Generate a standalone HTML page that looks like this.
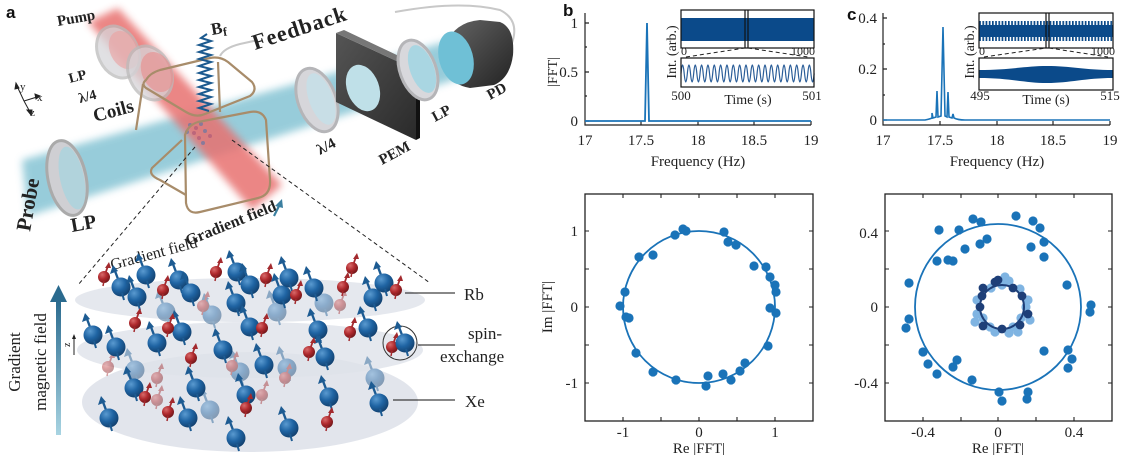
<!DOCTYPE html>
<html><head><meta charset="utf-8">
<style>
html,body{margin:0;padding:0;background:#fff;overflow:hidden;}
svg{display:block;}
.s{font-family:"Liberation Serif",serif;fill:#222;}
.b{font-family:"Liberation Sans",sans-serif;font-weight:bold;fill:#111;}
</style></head>
<body>
<svg width="1126" height="455" viewBox="0 0 1126 455" xmlns="http://www.w3.org/2000/svg">
<defs>
<filter id="bl4" x="-30%" y="-30%" width="160%" height="160%"><feGaussianBlur stdDeviation="4"/></filter>
<radialGradient id="gb" cx="0.35" cy="0.3" r="0.75"><stop offset="0" stop-color="#5a9ad0"/><stop offset="0.5" stop-color="#1f64a3"/><stop offset="1" stop-color="#123f6c"/></radialGradient>
<radialGradient id="gr" cx="0.35" cy="0.3" r="0.75"><stop offset="0" stop-color="#d86a6a"/><stop offset="0.5" stop-color="#b02a2e"/><stop offset="1" stop-color="#6e1518"/></radialGradient>
<linearGradient id="garr" x1="0" y1="1" x2="0" y2="0"><stop offset="0" stop-color="#a8d4e2"/><stop offset="1" stop-color="#2a6a8e"/></linearGradient>
<linearGradient id="gpd" x1="0" y1="0" x2="1" y2="1"><stop offset="0" stop-color="#666"/><stop offset="1" stop-color="#222"/></linearGradient>
<linearGradient id="gpem" x1="0" y1="0" x2="1" y2="1"><stop offset="0" stop-color="#555"/><stop offset="1" stop-color="#2a2a2a"/></linearGradient>
<pattern id="stripe" width="3.2" height="10" patternUnits="userSpaceOnUse"><rect width="1.7" height="10" fill="#0b4a8a"/></pattern>
<g id="xe">
<line x1="0" y1="0" x2="-6" y2="-16" stroke="#1d5b92" stroke-width="2.4"/>
<polygon points="-8,-22 -11,-13 -3,-16" fill="#1d5b92"/>
<circle cx="0" cy="0" r="9.5" fill="url(#gb)"/>
<line x1="1" y1="6" x2="3" y2="13" stroke="#1d5b92" stroke-width="2"/>
</g>
<g id="rb">
<line x1="0" y1="0" x2="4" y2="-11" stroke="#a32a2e" stroke-width="1.8"/>
<polygon points="5,-15 1,-9 7,-9" fill="#a32a2e"/>
<circle cx="0" cy="0" r="6" fill="url(#gr)"/>
<line x1="0" y1="4" x2="-1" y2="9" stroke="#a32a2e" stroke-width="1.5"/>
</g>
</defs>

<!-- ================= PANEL A TOP ================= -->
<text class="b" x="6" y="18" font-size="17">a</text>

<polygon points="22,160 452,40 460,78 28,216" fill="#86c4d4" opacity="0.85" filter="url(#bl4)"/>
<polygon points="88,22 118,8 282,185 252,210" fill="#e8716f" opacity="0.85" filter="url(#bl4)"/>

<ellipse cx="118" cy="52" rx="20" ry="27" transform="rotate(-25 118 52)" fill="#d6d6da" opacity="0.75" stroke="#bbb" stroke-width="3"/>
<ellipse cx="124" cy="50" rx="14" ry="20" transform="rotate(-25 124 50)" fill="#eba0a0" opacity="0.6"/>
<ellipse cx="150" cy="73" rx="21" ry="28" transform="rotate(-25 150 73)" fill="#d6d6da" opacity="0.75" stroke="#bbb" stroke-width="3"/>
<ellipse cx="157" cy="72" rx="15" ry="21" transform="rotate(-25 157 72)" fill="#e88c8c" opacity="0.6"/>

<ellipse cx="67" cy="178" rx="19" ry="38" transform="rotate(-12 67 178)" fill="#cfcfd3" stroke="#aaa" stroke-width="3"/>
<ellipse cx="72" cy="178" rx="12" ry="32" transform="rotate(-12 72 178)" fill="#a9d3de" opacity="0.8"/>

<g opacity="0.6">
<circle cx="190" cy="125" r="2" fill="#5577aa"/><circle cx="196" cy="128" r="2" fill="#aa5577"/><circle cx="201" cy="124" r="2" fill="#5577aa"/><circle cx="194" cy="133" r="2" fill="#aa5577"/><circle cx="205" cy="131" r="2" fill="#5577aa"/><circle cx="199" cy="138" r="2" fill="#aa5577"/><circle cx="210" cy="136" r="2" fill="#aa5577"/><circle cx="187" cy="132" r="2" fill="#5577aa"/><circle cx="203" cy="143" r="2" fill="#5577aa"/>
</g>

<g fill="none" stroke="#a88c6a" stroke-width="2.2" stroke-linejoin="round">
<path d="M146,80 Q150,73 160,70 L210,58 Q220,56 228,62 L252,82 Q258,90 250,96 L205,114 Q196,118 186,112 L146,88 Q141,84 146,80 Z"/>
<path d="M143,84 L136,130"/>
<path d="M218,62 L220,112"/>
<path d="M185,135 Q188,125 198,122 L250,112 Q262,110 266,120 L270,180 Q271,195 258,198 L200,212 Q188,215 186,203 Z"/>
<path d="M182,140 L152,168 Q148,175 160,180 L186,195"/>
</g>
<path d="M220,56 Q224,48 240,44 L258,40" fill="none" stroke="#c8c8c8" stroke-width="2"/>
<path d="M395,12 Q460,0 500,10 Q520,20 512,43" fill="none" stroke="#c8c8c8" stroke-width="2"/>

<path d="M207,34 l-6,4 l10,3 l-12,4 l12,3 l-12,4 l12,3 l-12,4 l12,3 l-12,4 l12,3 l-12,4 l12,3 l-12,4 l12,3 l-12,4 l12,3 l-12,4 l12,3 l-12,4 l12,3 l-12,4 l10,3" fill="none" stroke="#1c5a8f" stroke-width="2"/>
<text class="s" x="212" y="35" font-size="17" font-weight="bold" transform="rotate(-10 212 35)">B<tspan font-size="12" dy="3">f</tspan></text>

<ellipse cx="317" cy="100" rx="19" ry="33" transform="rotate(-20 317 100)" fill="#d6d6da" stroke="#b5b5b8" stroke-width="3"/>
<ellipse cx="321" cy="99" rx="12" ry="27" transform="rotate(-20 321 99)" fill="#c4e0e8" opacity="0.8"/>
<polygon points="336,33 416,70 416,140 336,102" fill="url(#gpem)"/>
<polygon points="336,33 344,30 420,66 416,70" fill="#777"/>
<polygon points="416,70 420,66 420,138 416,140" fill="#111"/>
<ellipse cx="363" cy="88" rx="16" ry="24" transform="rotate(-20 363 88)" fill="#bfe0e8"/>
<ellipse cx="418" cy="70" rx="18" ry="31" transform="rotate(-20 418 70)" fill="#d8d8dc" stroke="#b5b5b8" stroke-width="3"/>
<ellipse cx="422" cy="69" rx="12" ry="25" transform="rotate(-20 422 69)" fill="#a9d6e2"/>
<path d="M445,45 Q455,22 480,20 L500,22 Q515,28 513,55 Q510,78 494,85 L470,88 Q452,85 445,70 Z" fill="url(#gpd)"/>
<ellipse cx="456" cy="58" rx="17" ry="27" transform="rotate(-15 456 58)" fill="#6fc0d6"/>

<text class="s" x="58" y="26" font-size="15" font-weight="bold" transform="rotate(-10 58 26)">Pump</text>
<text class="s" x="70" y="83" font-size="14" font-weight="bold" transform="rotate(-15 70 83)">LP</text>
<text class="s" x="80" y="103" font-size="14" font-weight="bold" transform="rotate(-15 80 103)">λ/4</text>
<text class="s" x="95" y="122" font-size="19" font-weight="bold" transform="rotate(-15 95 122)">Coils</text>
<text class="s" x="255" y="50" font-size="22" font-weight="bold" letter-spacing="1" transform="rotate(-18 255 50)">Feedback</text>
<text class="s" x="320" y="155" font-size="15" font-weight="bold" transform="rotate(-28 320 155)">λ/4</text>
<text class="s" x="382" y="165" font-size="15" font-weight="bold" transform="rotate(-28 382 165)">PEM</text>
<text class="s" x="435" y="122" font-size="15" font-weight="bold" transform="rotate(-28 435 122)">LP</text>
<text class="s" x="490" y="100" font-size="15" font-weight="bold" transform="rotate(-28 490 100)">PD</text>
<text class="s" x="30" y="232" font-size="21" font-weight="bold" transform="rotate(-80 30 232)">Probe</text>
<text class="s" x="72" y="232" font-size="20" font-weight="bold" transform="rotate(-10 72 232)">LP</text>
<text class="s" x="188" y="246" font-size="16" font-weight="bold" transform="rotate(-22 188 246)">Gradient field</text>
<text class="s" x="112" y="270" font-size="16" transform="rotate(-15 112 270)">Gradient field</text>
<line x1="274" y1="216" x2="280" y2="204" stroke="#3b7fa0" stroke-width="2.2"/>
<polygon points="282,199 275,206 283,208" fill="#3b7fa0"/>

<g stroke="#222" stroke-width="1" fill="#222">
<line x1="24" y1="101" x2="17" y2="86"/><polygon points="16,83 15,89 19,88"/>
<line x1="24" y1="101" x2="37" y2="97"/><polygon points="40,96 35,94 36,99"/>
<line x1="24" y1="101" x2="30" y2="112"/><polygon points="31,115 27,110 32,110"/>
</g>
<text class="s" x="20" y="90" font-size="11">y</text>
<text class="s" x="37" y="101" font-size="11">x</text>
<text class="s" x="30" y="116" font-size="11">z</text>

<line x1="195" y1="147" x2="78" y2="285" stroke="#222" stroke-width="1" stroke-dasharray="4,3"/>
<line x1="232" y1="140" x2="430" y2="283" stroke="#222" stroke-width="1" stroke-dasharray="4,3"/>

<!-- ================= PANEL A BOTTOM ================= -->
<ellipse cx="250" cy="402" rx="168" ry="50" fill="#dfe2ea" opacity="0.9"/>
<ellipse cx="250" cy="350" rx="173" ry="28" fill="#dfe2ea" opacity="0.8"/>
<ellipse cx="250" cy="300" rx="175" ry="22" fill="#dfe2ea" opacity="0.8"/>

<g opacity="0.45">
<use href="#xe" x="166" y="312"/><use href="#xe" x="212" y="315"/><use href="#xe" x="277" y="312"/><use href="#xe" x="135" y="370"/><use href="#xe" x="240" y="372"/><use href="#xe" x="287" y="368"/><use href="#xe" x="375" y="378"/><use href="#xe" x="210" y="410"/><use href="#xe" x="324" y="303"/>
<use href="#rb" x="203" y="306"/><use href="#rb" x="340" y="305"/><use href="#rb" x="108" y="367"/><use href="#rb" x="157" y="378"/><use href="#rb" x="232" y="366"/><use href="#rb" x="285" y="378"/><use href="#rb" x="262" y="395"/><use href="#rb" x="157" y="400"/>
</g>
<g>
<use href="#xe" x="121" y="287"/><use href="#xe" x="137" y="297"/><use href="#xe" x="146" y="275"/><use href="#xe" x="179" y="280"/><use href="#xe" x="191" y="293"/><use href="#xe" x="236" y="303"/><use href="#xe" x="237" y="272"/><use href="#xe" x="250" y="285"/><use href="#xe" x="282" y="295"/><use href="#xe" x="289" y="278"/><use href="#xe" x="314" y="288"/><use href="#xe" x="373" y="298"/><use href="#xe" x="384" y="283"/>
<use href="#xe" x="93" y="335"/><use href="#xe" x="116" y="347"/><use href="#xe" x="157" y="343"/><use href="#xe" x="182" y="332"/><use href="#xe" x="223" y="350"/><use href="#xe" x="250" y="327"/><use href="#xe" x="264" y="365"/><use href="#xe" x="318" y="330"/><use href="#xe" x="325" y="357"/><use href="#xe" x="368" y="328"/>
<use href="#xe" x="134" y="388"/><use href="#xe" x="196" y="388"/><use href="#xe" x="246" y="395"/><use href="#xe" x="329" y="397"/><use href="#xe" x="379" y="403"/>
<use href="#xe" x="109" y="418"/><use href="#xe" x="188" y="418"/><use href="#xe" x="236" y="438"/><use href="#xe" x="289" y="428"/>
<use href="#rb" x="104" y="277"/><use href="#rb" x="163" y="290"/><use href="#rb" x="216" y="272"/><use href="#rb" x="266" y="278"/><use href="#rb" x="296" y="295"/><use href="#rb" x="343" y="287"/><use href="#rb" x="396" y="290"/><use href="#rb" x="352" y="268"/>
<use href="#rb" x="135" y="323"/><use href="#rb" x="168" y="328"/><use href="#rb" x="262" y="328"/><use href="#rb" x="350" y="332"/><use href="#rb" x="191" y="358"/><use href="#rb" x="309" y="352"/>
<use href="#rb" x="145" y="397"/><use href="#rb" x="246" y="408"/><use href="#rb" x="168" y="412"/><use href="#rb" x="327" y="422"/>
</g>
<circle cx="400" cy="343" r="17" fill="none" stroke="#333" stroke-width="1"/>
<use href="#rb" x="392" y="347"/><use href="#xe" x="405" y="343"/>

<line x1="405" y1="293" x2="455" y2="293" stroke="#111" stroke-width="1"/>
<line x1="418" y1="345" x2="455" y2="345" stroke="#111" stroke-width="1"/>
<line x1="393" y1="400" x2="455" y2="400" stroke="#111" stroke-width="1"/>
<text class="s" x="464" y="300" font-size="17">Rb</text>
<text class="s" x="468" y="339" font-size="17">spin-</text>
<text class="s" x="440" y="362" font-size="17">exchange</text>
<text class="s" x="465" y="407" font-size="17">Xe</text>

<rect x="56" y="300" width="5" height="135" fill="url(#garr)"/>
<polygon points="50,302 67,302 58.5,285" fill="#2a6a8e"/>
<text class="s" x="0" y="0" font-size="17" transform="translate(20,362) rotate(-90)" text-anchor="middle">Gradient</text>
<text class="s" x="0" y="0" font-size="17" transform="translate(46,362) rotate(-90)" text-anchor="middle">magnetic field</text>
<line x1="74" y1="355" x2="74" y2="337" stroke="#222" stroke-width="1"/>
<polygon points="74,334 72,339 76,339" fill="#222"/>
<text class="s" x="70" y="347" font-size="10" transform="rotate(-90 70 347)">z</text>

<!-- ================= PANEL B TOP ================= -->
<text class="b" x="563" y="16" font-size="17">b</text>
<g stroke="#222" stroke-width="1.2" fill="none">
<path d="M585,13 L585,125 L811,125"/>
<path d="M585,23 h4 M585,72 h4 M585,121 h4 M585,47 h2 M585,96 h2"/>
<path d="M641,125 v-4 M698,125 v-4 M754,125 v-4 M811,125 v-4"/>
</g>
<text class="s" x="578" y="28" font-size="15" text-anchor="end">1</text>
<text class="s" x="578" y="77" font-size="15" text-anchor="end">0.5</text>
<text class="s" x="578" y="126" font-size="15" text-anchor="end">0</text>
<text class="s" x="0" y="0" font-size="14" transform="translate(557,72) rotate(-90)" text-anchor="middle">|FFT|</text>
<text class="s" x="585" y="145" font-size="15" text-anchor="middle">17</text>
<text class="s" x="641" y="145" font-size="15" text-anchor="middle">17.5</text>
<text class="s" x="698" y="145" font-size="15" text-anchor="middle">18</text>
<text class="s" x="754" y="145" font-size="15" text-anchor="middle">18.5</text>
<text class="s" x="811" y="145" font-size="15" text-anchor="middle">19</text>
<text class="s" x="698" y="166" font-size="15" text-anchor="middle">Frequency (Hz)</text>
<path d="M585,121 L645,121 L647,23 L649,121 L811,121" fill="none" stroke="#1a73b8" stroke-width="1.8"/>
<rect x="681" y="18" width="133" height="23" fill="#0b4a8a"/>
<rect x="681" y="10" width="133" height="38" fill="none" stroke="#111" stroke-width="1.2"/>
<line x1="745" y1="10" x2="745" y2="48" stroke="#111" stroke-width="1.2"/>
<line x1="748" y1="10" x2="748" y2="48" stroke="#111" stroke-width="1.2"/>
<path d="M686,57 L745,48 M748,48 L808,57" stroke="#222" stroke-dasharray="4,3" stroke-width="1"/>
<text class="s" x="681" y="55" font-size="12">0</text>
<text class="s" x="815" y="55" font-size="12" text-anchor="end">1000</text>
<path d="M681,73.5 q1.58,-17 3.17,0 t3.17,0 t3.17,0 t3.17,0 t3.17,0 t3.17,0 t3.17,0 t3.17,0 t3.17,0 t3.17,0 t3.17,0 t3.17,0 t3.17,0 t3.17,0 t3.17,0 t3.17,0 t3.17,0 t3.17,0 t3.17,0 t3.17,0 t3.17,0 t3.17,0 t3.17,0 t3.17,0 t3.17,0 t3.17,0 t3.17,0 t3.17,0 t3.17,0 t3.17,0 t3.17,0 t3.17,0 t3.17,0 t3.17,0 t3.17,0 t3.17,0 t3.17,0 t3.17,0 t3.17,0 t3.17,0 t3.17,0 t3.17,0" fill="none" stroke="#2a5d98" stroke-width="1.2"/>
<rect x="681" y="58" width="133" height="29" fill="none" stroke="#111" stroke-width="1.2"/>
<text class="s" x="681" y="100" font-size="13" text-anchor="middle">500</text>
<text class="s" x="748" y="104" font-size="14" text-anchor="middle">Time (s)</text>
<text class="s" x="812" y="100" font-size="13" text-anchor="middle">501</text>
<text class="s" x="0" y="0" font-size="14" transform="translate(676,52) rotate(-90)" text-anchor="middle">Int. (arb.)</text>

<!-- ================= PANEL C TOP ================= -->
<text class="b" x="847" y="20" font-size="17">c</text>
<g stroke="#222" stroke-width="1.2" fill="none">
<path d="M883,13 L883,125 L1110,125"/>
<path d="M883,18 h4 M883,69 h4 M883,120 h4 M883,44 h2 M883,95 h2"/>
<path d="M940,125 v-4 M997,125 v-4 M1053,125 v-4 M1110,125 v-4"/>
</g>
<text class="s" x="877" y="23" font-size="15" text-anchor="end">0.4</text>
<text class="s" x="877" y="74" font-size="15" text-anchor="end">0.2</text>
<text class="s" x="877" y="125" font-size="15" text-anchor="end">0</text>
<text class="s" x="883" y="145" font-size="15" text-anchor="middle">17</text>
<text class="s" x="940" y="145" font-size="15" text-anchor="middle">17.5</text>
<text class="s" x="997" y="145" font-size="15" text-anchor="middle">18</text>
<text class="s" x="1053" y="145" font-size="15" text-anchor="middle">18.5</text>
<text class="s" x="1110" y="145" font-size="15" text-anchor="middle">19</text>
<text class="s" x="997" y="166" font-size="15" text-anchor="middle">Frequency (Hz)</text>
<path d="M883,120 L925,120 Q930,119 932,118 L932,113 L933,118 L936,117 L937,91 L938,117 L941,116 L943,27 L945,116 L947,117 L948,92 L949,117 L952,118 L953,114 L954,118 Q958,120 965,120 L1110,120" fill="none" stroke="#1a73b8" stroke-width="1.6"/>
<rect x="979" y="21" width="134" height="20" fill="url(#stripe)"/>
<rect x="979" y="25" width="134" height="12" fill="#0b4a8a"/>
<rect x="979" y="13" width="134" height="35" fill="none" stroke="#111" stroke-width="1.2"/>
<line x1="1046" y1="13" x2="1046" y2="48" stroke="#111" stroke-width="1.2"/>
<line x1="1049" y1="13" x2="1049" y2="48" stroke="#111" stroke-width="1.2"/>
<path d="M984,57 L1046,48 M1049,48 L1108,57" stroke="#222" stroke-dasharray="4,3" stroke-width="1"/>
<text class="s" x="979" y="55" font-size="12">0</text>
<text class="s" x="1115" y="55" font-size="12" text-anchor="end">1000</text>
<path d="M979,70 C1010,70 1025,66 1047,66 C1070,66 1085,70 1113,70 L1113,78 C1085,78 1070,83 1047,83 C1025,83 1010,78 979,78 Z" fill="#0b4a8a"/>
<rect x="979" y="58" width="134" height="32" fill="none" stroke="#111" stroke-width="1.2"/>
<text class="s" x="980" y="100" font-size="13" text-anchor="middle">495</text>
<text class="s" x="1046" y="104" font-size="14" text-anchor="middle">Time (s)</text>
<text class="s" x="1110" y="100" font-size="13" text-anchor="middle">515</text>
<text class="s" x="0" y="0" font-size="14" transform="translate(974,52) rotate(-90)" text-anchor="middle">Int. (arb.)</text>

<!-- ================= PANEL B BOTTOM ================= -->
<rect x="585" y="194" width="228" height="227" fill="none" stroke="#222" stroke-width="1.3"/>
<g stroke="#222" stroke-width="1.1">
<path d="M623,194 v4 M661,194 v4 M699,194 v4 M737,194 v4 M775,194 v4"/>
<path d="M623,421 v-4 M661,421 v-4 M699,421 v-4 M737,421 v-4 M775,421 v-4"/>
<path d="M585,231 h4 M585,269 h4 M585,307 h4 M585,345 h4 M585,383 h4"/>
<path d="M813,231 h-4 M813,269 h-4 M813,307 h-4 M813,345 h-4 M813,383 h-4"/>
</g>
<text class="s" x="578" y="236" font-size="15" text-anchor="end">1</text>
<text class="s" x="578" y="312" font-size="15" text-anchor="end">0</text>
<text class="s" x="578" y="388" font-size="15" text-anchor="end">-1</text>
<text class="s" x="623" y="437" font-size="15" text-anchor="middle">-1</text>
<text class="s" x="699" y="437" font-size="15" text-anchor="middle">0</text>
<text class="s" x="775" y="437" font-size="15" text-anchor="middle">1</text>
<text class="s" x="699" y="453" font-size="15" text-anchor="middle">Re |FFT|</text>
<text class="s" x="0" y="0" font-size="15" transform="translate(552,307) rotate(-90)" text-anchor="middle">Im |FFT|</text>
<ellipse cx="699" cy="307" rx="76" ry="76" fill="none" stroke="#1a73b8" stroke-width="1.8"/>
<g fill="#1a73b8">
<circle cx="683" cy="229" r="4.6"/><circle cx="675" cy="235" r="4.6"/><circle cx="686" cy="231" r="4.6"/><circle cx="724" cy="232" r="4.6"/><circle cx="728" cy="242" r="4.6"/><circle cx="736" cy="245" r="4.6"/><circle cx="639" cy="257" r="4.6"/><circle cx="653" cy="255" r="4.6"/><circle cx="754" cy="266" r="4.6"/><circle cx="766" cy="267" r="4.6"/><circle cx="770" cy="277" r="4.6"/><circle cx="775" cy="285" r="4.6"/><circle cx="776" cy="292" r="4.6"/><circle cx="625" cy="292" r="4.6"/><circle cx="620" cy="306" r="4.6"/><circle cx="626" cy="317" r="4.6"/><circle cx="629" cy="318" r="4.6"/><circle cx="770" cy="308" r="4.6"/><circle cx="776" cy="313" r="4.6"/><circle cx="768" cy="346" r="4.6"/><circle cx="636" cy="353" r="4.6"/><circle cx="653" cy="372" r="4.6"/><circle cx="676" cy="380" r="4.6"/><circle cx="706" cy="386" r="4.6"/><circle cx="708" cy="376" r="4.6"/><circle cx="723" cy="374" r="4.6"/><circle cx="731" cy="380" r="4.6"/><circle cx="740" cy="371" r="4.6"/><circle cx="745" cy="363" r="4.6"/>
</g>

<!-- ================= PANEL C BOTTOM ================= -->
<rect x="885" y="194" width="227" height="227" fill="none" stroke="#222" stroke-width="1.3"/>
<g stroke="#222" stroke-width="1.1">
<path d="M923,194 v4 M961,194 v4 M998,194 v4 M1036,194 v4 M1074,194 v4"/>
<path d="M923,421 v-4 M961,421 v-4 M998,421 v-4 M1036,421 v-4 M1074,421 v-4"/>
<path d="M885,231 h4 M885,269 h4 M885,307 h4 M885,345 h4 M885,383 h4"/>
<path d="M1112,231 h-4 M1112,269 h-4 M1112,307 h-4 M1112,345 h-4 M1112,383 h-4"/>
</g>
<text class="s" x="878" y="238" font-size="15" text-anchor="end">0.4</text>
<text class="s" x="878" y="312" font-size="15" text-anchor="end">0</text>
<text class="s" x="878" y="388" font-size="15" text-anchor="end">-0.4</text>
<text class="s" x="923" y="437" font-size="15" text-anchor="middle">-0.4</text>
<text class="s" x="998" y="437" font-size="15" text-anchor="middle">0</text>
<text class="s" x="1074" y="437" font-size="15" text-anchor="middle">0.4</text>
<text class="s" x="998" y="453" font-size="15" text-anchor="middle">Re |FFT|</text>
<circle cx="998" cy="307" r="83" fill="none" stroke="#1a73b8" stroke-width="1.8"/>
<g fill="#1a73b8">
<circle cx="1016" cy="216" r="4.6"/><circle cx="973" cy="219" r="4.6"/><circle cx="981" cy="222" r="4.6"/><circle cx="1033" cy="221" r="4.6"/><circle cx="1040" cy="228" r="4.6"/><circle cx="939" cy="230" r="4.6"/><circle cx="959" cy="230" r="4.6"/><circle cx="987" cy="239" r="4.6"/><circle cx="980" cy="244" r="4.6"/><circle cx="965" cy="249" r="4.6"/><circle cx="1044" cy="242" r="4.6"/><circle cx="1031" cy="247" r="4.6"/><circle cx="1044" cy="257" r="4.6"/><circle cx="937" cy="261" r="4.6"/><circle cx="948" cy="260" r="4.6"/><circle cx="953" cy="261" r="4.6"/><circle cx="909" cy="283" r="4.6"/><circle cx="1067" cy="285" r="4.6"/><circle cx="1091" cy="305" r="4.6"/><circle cx="1090" cy="312" r="4.6"/><circle cx="909" cy="319" r="4.6"/><circle cx="906" cy="328" r="4.6"/><circle cx="1044" cy="351" r="4.6"/><circle cx="1068" cy="350" r="4.6"/><circle cx="1072" cy="359" r="4.6"/><circle cx="1068" cy="368" r="4.6"/><circle cx="923" cy="352" r="4.6"/><circle cx="928" cy="364" r="4.6"/><circle cx="937" cy="374" r="4.6"/><circle cx="957" cy="360" r="4.6"/><circle cx="953" cy="367" r="4.6"/><circle cx="972" cy="380" r="4.6"/><circle cx="999" cy="392" r="4.6"/><circle cx="1002" cy="401" r="4.6"/><circle cx="1028" cy="392" r="4.6"/><circle cx="1027" cy="399" r="4.6"/>
</g>
<g fill="#7fb4e2">
<circle cx="1026" cy="307" r="4.6"/><circle cx="1021" cy="318" r="4.6"/><circle cx="1013" cy="327" r="4.6"/><circle cx="1009" cy="333" r="4.6"/><circle cx="995" cy="332" r="4.6"/><circle cx="990" cy="327" r="4.6"/><circle cx="983" cy="318" r="4.6"/><circle cx="977" cy="314" r="4.6"/><circle cx="977" cy="300" r="4.6"/><circle cx="991" cy="288" r="4.6"/><circle cx="1002" cy="285" r="4.6"/><circle cx="1009" cy="281" r="4.6"/><circle cx="1020" cy="289" r="4.6"/><circle cx="1028" cy="300" r="4.6"/><circle cx="1005" cy="277" r="4.6"/><circle cx="1030" cy="320" r="4.6"/><circle cx="975" cy="322" r="4.6"/><circle cx="1018" cy="332" r="4.6"/>
</g>
<g fill="#1e3f78">
<circle cx="1028" cy="314" r="4.4"/><circle cx="1020" cy="325" r="4.4"/><circle cx="1002" cy="329" r="4.4"/><circle cx="983" cy="326" r="4.4"/><circle cx="980" cy="307" r="4.4"/><circle cx="982" cy="296" r="4.4"/><circle cx="983" cy="288" r="4.4"/><circle cx="995" cy="282" r="4.4"/><circle cx="1013" cy="288" r="4.4"/><circle cx="1022" cy="296" r="4.4"/><circle cx="998" cy="280" r="4.4"/>
</g>
<circle cx="1002" cy="307" r="22" fill="none" stroke="#1e3f78" stroke-width="2"/>
</svg>
</body></html>
